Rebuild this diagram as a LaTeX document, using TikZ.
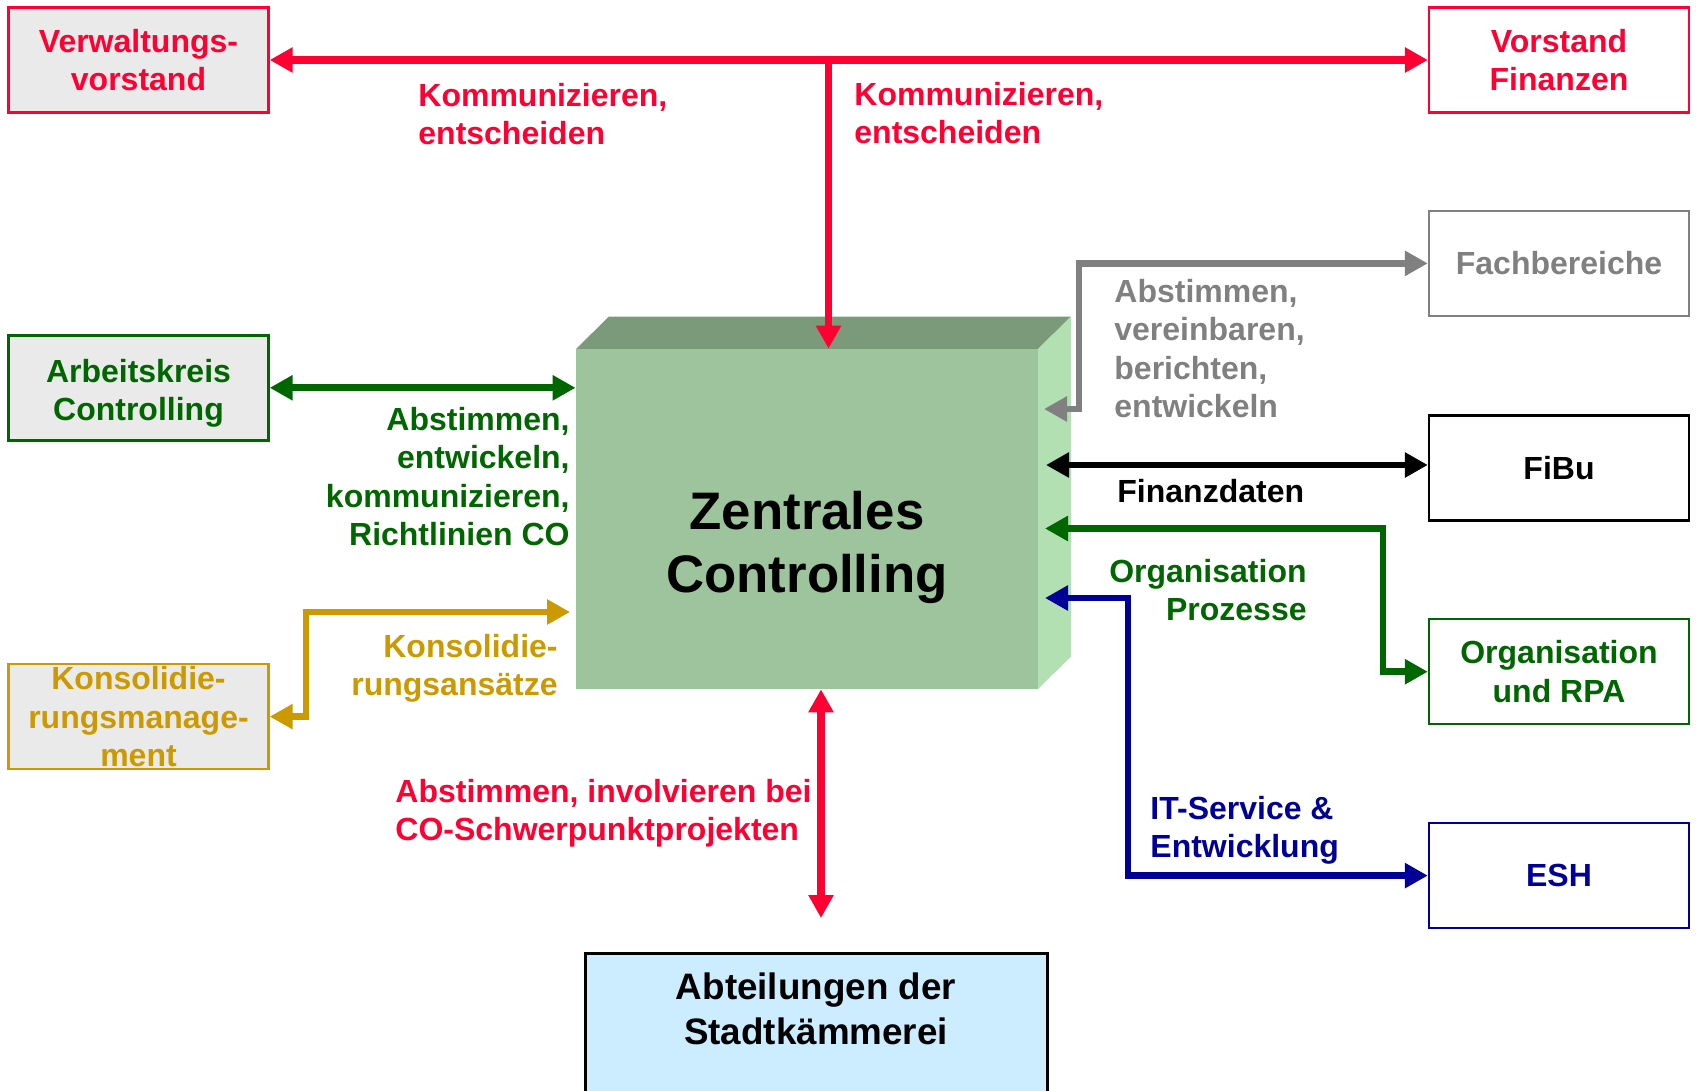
\documentclass[tikz,border=0pt]{standalone}
\usepackage{fontspec}
\setmainfont{Liberation Sans}
\usetikzlibrary{arrows.meta,calc}
\definecolor{cred}{HTML}{FF0033}
\definecolor{cgreen}{HTML}{006600}
\definecolor{cgold}{HTML}{CC9900}
\definecolor{cgray}{HTML}{808080}
\definecolor{cblue}{HTML}{000099}
\definecolor{boxgray}{HTML}{EAEAEA}
\definecolor{lightblue}{HTML}{CCECFF}
\definecolor{cubefront}{HTML}{9DC49C}
\definecolor{cubetop}{HTML}{7A9A7A}
\definecolor{cubeside}{HTML}{B3E0B3}
\tikzset{
  box/.style={draw, line width=1.2pt, minimum width=130pt, minimum height=52.5pt,
    align=center, inner sep=0pt, font=\bfseries\fontsize{16}{19.2}\selectfont},
  lbl/.style={inner sep=0pt, font=\bfseries\fontsize{16}{19.2}\selectfont},
  tipA/.tip={Triangle[length=11.5pt,width=12pt]},
  conn/.style={line width=3.4pt, tipA-tipA},
  connone/.style={line width=3.75pt, -tipA},
}
\begin{document}
\begin{tikzpicture}[x=0.5pt,y=-0.5pt]
\useasboundingbox (0,0) rectangle (1696,1091);
% boxes
\node[box, draw=cred, fill=boxgray, text=cred] (vv) at (138.5,60) {Verwaltungs-\\vorstand};
\node[box, draw=cred, fill=white, text=cred] (vf) at (1559,60) {Vorstand\\Finanzen};
\node[box, draw=cgray, fill=white, text=cgray] (fb) at (1559,263.4) {Fachbereiche};
\node[box, draw=black, fill=white, text=black] (fibu) at (1559,467.8) {FiBu};
\node[box, draw=cgreen, fill=white, text=cgreen] (org) at (1559,671.7) {Organisation\\und RPA};
\node[box, draw=cblue, fill=white, text=cblue] (esh) at (1559,875.6) {ESH};
\node[box, draw=cgreen, fill=boxgray, text=cgreen] (ak) at (138.5,387.8) {\rule{0pt}{17pt}Arbeitskreis\\Controlling};
\node[box, draw=cgold, fill=boxgray, text=cgold] (km) at (138.5,716.6) {Konsolidie-\\rungsmanage-\\ment};
\node[draw=black, line width=1.5pt, fill=lightblue, minimum width=231pt, minimum height=76pt,
  anchor=north, inner sep=0pt] (abt) at (816,952) {};
\node[inner sep=0pt, align=center, font=\bfseries\fontsize{18.4}{22.2}\selectfont] (abttext) at (816,1009) {Abteilungen der\\Stadtkämmerei};
% cube
\fill[cubetop] (576,349) -- (609,316.5) -- (1071,316.5) -- (1038,349) -- cycle;
\fill[cubeside] (1038,349) -- (1071,316.5) -- (1071,656.5) -- (1038,689) -- cycle;
\node[fill=cubefront, minimum width=231pt, minimum height=170pt, inner sep=0pt] (cc) at (807,519) {};
\node[inner sep=0pt, align=center, font=\bfseries\fontsize{26.4}{31.7}\selectfont] (cctext) at (807,547.5) {Zentrales\\Controlling};
% connectors
\coordinate (tj) at (828.5,60);
\draw[conn, line width=3.75pt, cred] (vv.east) -- (vf.west);
\draw[connone, cred] (tj) -- (tj |- cc.north);
\coordinate (rb) at (821,918);
\draw[conn, line width=3.75pt, cred] (rb |- cc.south) -- (rb);
\draw[conn, cgreen] (ak.east) -- (ak.east -| cc.west);
\coordinate (g1) at (306,612);
\coordinate (g2) at (570,612);
\draw[conn, cgold] (km.east) -| (g1) -- (g2);
\coordinate (gv) at (1079,409);
\coordinate (gt) at (1044,409);
\draw[conn, cgray] (fb.west) -| (gv) -- (gt);
\coordinate (bt) at (1046,465);
\draw[conn, black] (bt) -- (bt -| fibu.west);
\coordinate (ot) at (1045,528.5);
\coordinate (ov) at (1383,528.5);
\draw[conn, cgreen] (ot) -- (ov) -- (ov |- org.west) -- (org.west);
\coordinate (it) at (1045,598);
\coordinate (iv) at (1128,598);
\draw[conn, cblue] (it) -- (iv) -- (iv |- esh.west) -- (esh.west);
% labels
\node[lbl, text=cred, align=left, anchor=north west] (l1) at (418,83) {Kommunizieren,\\entscheiden};
\node[lbl, text=cred, align=left, anchor=north west] (l2) at (854,82) {Kommunizieren,\\entscheiden};
\node[lbl, text=cgreen, align=right, anchor=north east] (l3) at (570,407) {Abstimmen,\\entwickeln,\\kommunizieren,\\Richtlinien CO};
\node[lbl, text=cgold, align=right, anchor=north east] (l4) at (558,634) {Konsolidie-\\rungsansätze};
\node[lbl, text=cgray, align=left, anchor=north west] (l5) at (1114,279) {Abstimmen,\\vereinbaren,\\berichten,\\entwickeln};
\node[lbl, text=black, anchor=west] (l6) at (1117,491) {Finanzdaten};
\node[lbl, text=cgreen, align=right, anchor=north east] (l7) at (1307,559) {Organisation\\Prozesse};
\node[lbl, text=cblue, align=left, anchor=north west] (l8) at (1150,796) {IT-Service \&\\Entwicklung};
\node[lbl, text=cred, align=left, anchor=north west] (l9) at (395,779) {Abstimmen, involvieren bei\\CO-Schwerpunktprojekten};
\end{tikzpicture}
\end{document}
